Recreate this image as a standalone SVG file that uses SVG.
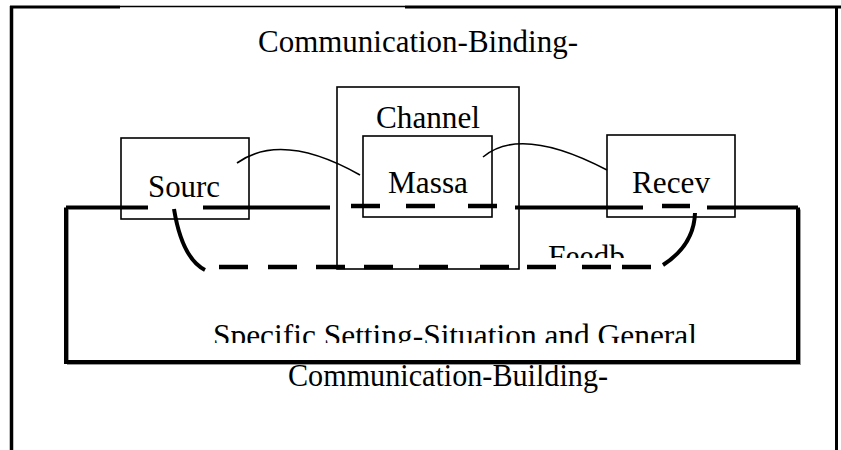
<svg xmlns="http://www.w3.org/2000/svg" width="841" height="450" viewBox="0 0 841 450">
<defs>
<style>
.t{font-family:"Liberation Serif","Times New Roman",serif;font-size:31px;fill:#000}
.box{fill:none;stroke:#000;stroke-width:1.6}
.thick{stroke:#000;stroke-width:4;fill:none}
.thin{stroke:#000;stroke-width:1.6;fill:none}
.seg{stroke:#000;stroke-width:4.5}
</style>
<clipPath id="clipSpec"><rect x="0" y="300" width="841" height="43"/></clipPath>
<clipPath id="clipFeed"><rect x="0" y="230" width="841" height="28"/></clipPath>
</defs>
<rect width="841" height="450" fill="#fff"/>
<g id="frame">
<line x1="10" y1="7" x2="120" y2="7" stroke="#000" stroke-width="3"/>
<line x1="120" y1="6.5" x2="405" y2="6.5" stroke="#000" stroke-width="1.6"/>
<line x1="405" y1="7" x2="841" y2="7" stroke="#000" stroke-width="3"/>
<line x1="11.5" y1="6" x2="11.5" y2="450" stroke="#000" stroke-width="3.5"/>
<line x1="836.5" y1="6" x2="836.5" y2="450" stroke="#000" stroke-width="3"/>
</g>
<g id="labels">
<text class="t" x="258" y="52" textLength="320" lengthAdjust="spacingAndGlyphs">Communication-Binding-</text>
<text class="t" x="288" y="386" textLength="320" lengthAdjust="spacingAndGlyphs">Communication-Building-</text>
</g>
<g id="setting">
<polyline points="68,209.5 68,364 800,364 800,209.5" fill="none" stroke="#999" stroke-width="2"/>
<polyline points="66,207.5 66,362 798,362 798,207.5" class="thick"/>
<g clip-path="url(#clipSpec)"><text class="t" x="213" y="346" textLength="484" lengthAdjust="spacingAndGlyphs">Specific Setting-Situation and General</text></g>
</g>
<g id="channel">
<rect x="337" y="87" width="182" height="182" class="box"/>
<text class="t" x="376" y="128" textLength="104" lengthAdjust="spacingAndGlyphs">Channel</text>
</g>
<g id="source">
<rect x="121" y="138" width="128" height="81" class="box"/>
<text class="t" x="148" y="197" textLength="72" lengthAdjust="spacingAndGlyphs">Sourc</text>
</g>
<g id="message">
<rect x="363" y="136" width="129" height="81" class="box"/>
<text class="t" x="388" y="193" textLength="80" lengthAdjust="spacingAndGlyphs">Massa</text>
</g>
<g id="receiver">
<rect x="607" y="135" width="128" height="82" class="box"/>
<text class="t" x="632" y="193" textLength="78" lengthAdjust="spacingAndGlyphs">Recev</text>
</g>
<g id="feedback">
<g clip-path="url(#clipFeed)"><text class="t" x="548" y="267" textLength="77" lengthAdjust="spacingAndGlyphs">Feedb</text></g>
</g>
<g id="connectors">
<path d="M66,207.5H148M203,207.5H330M515,207.5H643M707,207.5H798" class="thick"/>
<path d="M351,206H380M406,206H435M468,206H497M662,206H690" class="seg"/>
<path d="M219,267H248M268,267H297M316,267H345M364,267H393M419,267H448M480,267H509M527,267H556M582,267H611M622,267H651" class="seg"/>
<path d="M174,209 Q182,258 205,270" class="thick" stroke-width="3.5"/>
<path d="M695,213 Q694,245 663,265" class="thick" stroke-width="3.5"/>
<path d="M237,163 Q282,131 360,175" class="thin"/>
<path d="M483,157 Q521,125 607,170" class="thin"/>
</g>
</svg>
